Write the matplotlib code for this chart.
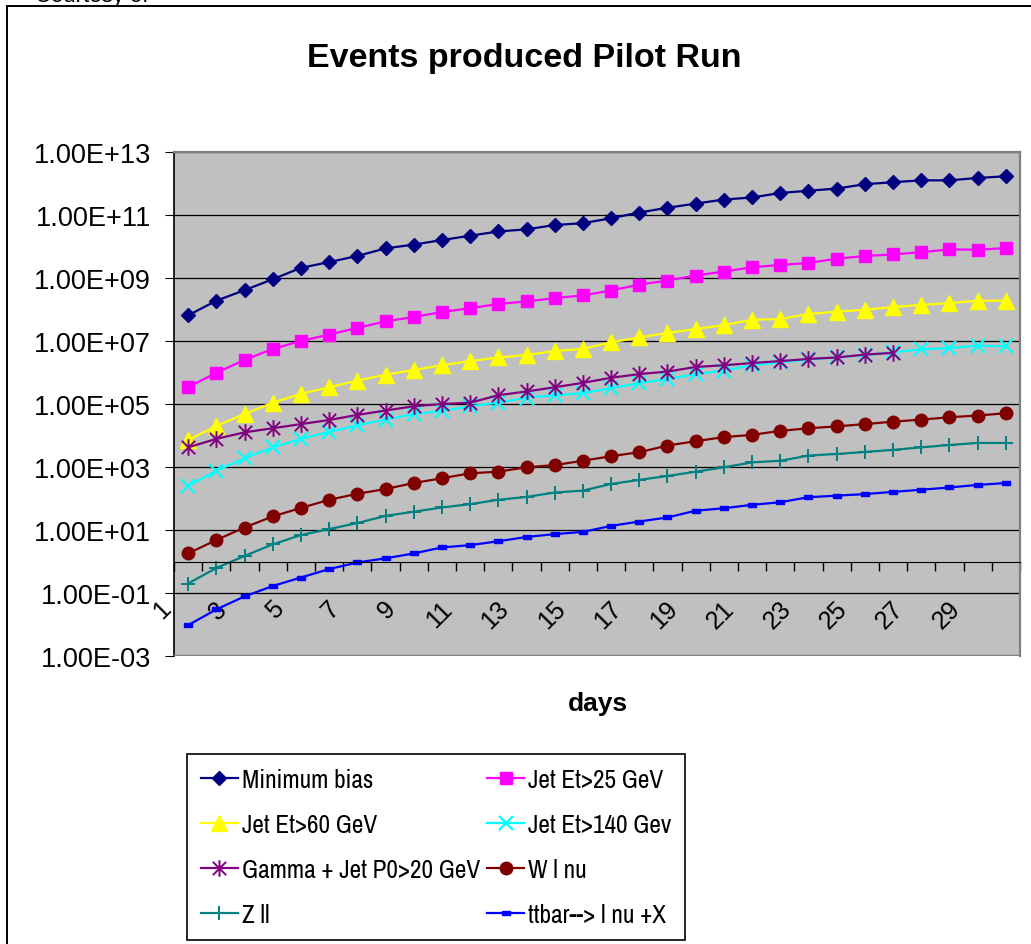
import matplotlib
matplotlib.use("Agg")
import numpy as np
import matplotlib.pyplot as plt
import matplotlib.transforms as mtrans
from matplotlib.path import Path
from matplotlib.patches import Rectangle
from matplotlib.ticker import FixedLocator, FuncFormatter
from matplotlib import font_manager

# ---- data ----
days = list(range(1, 31))

min_bias = [6.5e7, 1.9e8, 4.1e8, 9.1e8, 2.1e9, 3.2e9, 5.0e9, 8.7e9, 1.15e10, 1.6e10,
            2.2e10, 3.0e10, 3.5e10, 4.8e10, 5.5e10, 7.9e10, 1.2e11, 1.7e11, 2.3e11, 3.1e11,
            3.6e11, 5.0e11, 5.9e11, 6.9e11, 9.5e11, 1.1e12, 1.26e12, 1.26e12, 1.5e12, 1.7e12]
jet25 = [3.4e5, 9.8e5, 2.5e6, 5.6e6, 1.0e7, 1.6e7, 2.6e7, 4.2e7, 5.8e7, 8.3e7,
         1.1e8, 1.5e8, 1.8e8, 2.3e8, 2.8e8, 4.0e8, 6.2e8, 8.3e8, 1.2e9, 1.6e9,
         2.2e9, 2.6e9, 3.0e9, 4.1e9, 5.0e9, 5.6e9, 6.6e9, 8.1e9, 7.9e9, 8.9e9]
jet60 = [7.2e3, 2.0e4, 4.8e4, 1.1e5, 2.1e5, 3.4e5, 5.5e5, 8.5e5, 1.2e6, 1.7e6,
         2.3e6, 3.0e6, 3.6e6, 4.8e6, 5.6e6, 9.1e6, 1.3e7, 1.8e7, 2.4e7, 3.2e7,
         4.7e7, 5.0e7, 7.2e7, 8.5e7, 9.8e7, 1.2e8, 1.4e8, 1.6e8, 1.9e8, 1.9e8]
jet140 = [2.5e2, 7.6e2, 1.9e3, 4.2e3, 7.8e3, 1.3e4, 2.1e4, 3.2e4, 4.8e4, 6.0e4,
          8.5e4, 1.1e5, 1.6e5, 1.9e5, 2.2e5, 3.2e5, 4.6e5, 6.2e5, 8.9e5, 1.15e6,
          1.7e6, 2.1e6, 2.6e6, 3.0e6, 3.6e6, 4.4e6, 5.4e6, 6.0e6, 7.1e6, 6.8e6]
gamma_jet = [4.2e3, 7.8e3, 1.26e4, 1.7e4, 2.3e4, 3.1e4, 4.5e4, 6.2e4, 8.5e4, 1.0e5,
             1.1e5, 1.9e5, 2.5e5, 3.4e5, 4.7e5, 6.8e5, 8.9e5, 1.07e6, 1.5e6, 1.7e6,
             2.0e6, 2.3e6, 2.7e6, 3.0e6, 3.7e6, 4.2e6]
w_lnu = [1.8, 4.8, 12, 27, 50, 91, 141, 200, 310, 440,
         630, 710, 980, 1150, 1580, 2200, 2950, 4800, 6600, 8900,
         1.05e4, 1.4e4, 1.7e4, 1.95e4, 2.3e4, 2.75e4, 3.2e4, 3.8e4, 4.3e4, 5.1e4]
z_ll = [0.20, 0.62, 1.5, 3.5, 6.9, 10.7, 16.6, 28, 38, 52,
        66, 91, 112, 155, 178, 290, 390, 520, 710, 980,
        1400, 1580, 2300, 2600, 3000, 3500, 4200, 5000, 5800, 5800]
ttbar = [0.0095, 0.030, 0.078, 0.166, 0.31, 0.575, 0.93, 1.26, 1.8, 2.8,
         3.3, 4.4, 6.0, 7.4, 8.7, 13.5, 18.6, 25, 41, 49,
         63, 76, 110, 123, 138, 162, 190, 224, 270, 310]

names = ["Minimum bias", "Jet Et>25 GeV", "Jet Et>60 GeV", "Jet Et>140 Gev",
         "Gamma + Jet P0>20 GeV", "W l nu", "Z ll", "ttbar--> l nu +X"]
series = [min_bias, jet25, jet60, jet140, gamma_jet, w_lnu, z_ll, ttbar]

# excel style markers
star = Path([(-1, -1), (1, 1), (-1, 1), (1, -1), (0, -1.25), (0, 1.25)],
            [Path.MOVETO, Path.LINETO, Path.MOVETO, Path.LINETO, Path.MOVETO, Path.LINETO])
dash = [(-1, -0.4), (1, -0.4), (1, 0.4), (-1, 0.4), (-1, -0.4)]

styles = [
    dict(color="#000080", marker="D", ms=7),
    dict(color="#FF00FF", marker="s", ms=9),
    dict(color="#FFFF00", marker="^", ms=11),
    dict(color="#00FFFF", marker="x", ms=10, mew=1.6),
    dict(color="#800080", marker=star, ms=12, mew=1.4),
    dict(color="#800000", marker="o", ms=9),
    dict(color="#008080", marker="+", ms=10, mew=1.4),
    dict(color="#0000FF", marker=dash, ms=6),
]

plt.rcParams["font.family"] = ["Liberation Sans", "DejaVu Sans"]
# legend text in the original is squeezed, use a narrow face if there is one
installed = {f.name for f in font_manager.fontManager.ttflist}
if "Archivo Narrow" in installed:
    legend_prop = {"family": "Archivo Narrow", "size": 18.2}
    leg_space, leg_pad = 0.87, 0.55
else:
    legend_prop = {"family": "Liberation Sans", "size": 15}
    leg_space, leg_pad = 1.15, 0.6

fig = plt.figure(figsize=(10.31, 9.45), dpi=100)
ax = fig.add_axes([174 / 1031, 1 - 657 / 945, 846 / 1031, 504 / 945])
ax.set_facecolor("#C0C0C0")

lines = []
for name, vals, st in zip(names, series, styles):
    ln, = ax.plot(days[:len(vals)], vals, label=name, lw=1.6, clip_on=False, **st)
    lines.append(ln)

ax.set_yscale("log")
ax.set_ylim(1e-3, 1e13)
ax.set_xlim(0.5, 30.5)
ax.yaxis.set_major_locator(FixedLocator([10.0 ** k for k in range(-3, 14, 2)]))
ax.yaxis.set_minor_locator(FixedLocator([]))
ax.yaxis.set_major_formatter(FuncFormatter(lambda v, p: f"{v:.2E}"))
ax.grid(axis="y", color="black", lw=0.9)
ax.set_axisbelow(True)

# x axis crosses at 1 like excel
ax.spines["bottom"].set_position(("data", 1))
ax.spines["bottom"].set_color("black")
ax.spines["left"].set_color("black")
ax.spines["left"].set_linewidth(1.2)
for s in ["top", "right"]:
    ax.spines[s].set_color("#808080")
    ax.spines[s].set_linewidth(1.6)
ax.axhline(1e-3, color="#808080", lw=2.5, zorder=3)

ax.set_xticks(days[::2])
ax.set_xticklabels([str(d) for d in days[::2]])
ax.xaxis.set_minor_locator(FixedLocator(np.arange(0.5, 31, 1)))
ax.tick_params(axis="x", which="major", length=0, pad=25, labelsize=18)
ax.tick_params(axis="x", which="minor", length=6.5, direction="out", width=1.0)
ax.tick_params(axis="y", which="major", length=6.5, direction="out", pad=10, labelsize=19.5)
shift = mtrans.ScaledTranslation(-0.13, 0, fig.dpi_scale_trans)
for t in ax.xaxis.get_major_ticks():
    t.label1.set_rotation(45)
    t.label1.set_ha("right")
    t.label1.set_va("top")
    t.label1.set_transform(t.label1.get_transform() + shift)

fig.text(524 / 1031, 1 - 58 / 945, "Events produced Pilot Run", ha="center", va="center",
         fontsize=24.5, fontweight="bold")
fig.text(598 / 1031, 1 - 704 / 945, "days", ha="center", va="center",
         fontsize=19, fontweight="bold")
fig.text(35 / 1031, 1.004, "Courtesy of", ha="left", va="center", fontsize=16)

# chart border
fig.patches.append(Rectangle((7 / 1031, -0.05), 1.2, 1.05 - 7 / 945, transform=fig.transFigure,
                             fill=False, edgecolor="black", lw=1.4))

order = [0, 2, 4, 6, 1, 3, 5, 7]
leg = fig.legend([lines[i] for i in order], [names[i] for i in order], ncol=2,
                 loc="upper left", bbox_to_anchor=(187 / 1031, 1 - 755 / 945),
                 prop=legend_prop,
                 frameon=True, fancybox=False, edgecolor="black", framealpha=1,
                 handlelength=1.45, handletextpad=0.16, columnspacing=0.3,
                 labelspacing=leg_space, borderpad=leg_pad, borderaxespad=0)
leg.get_frame().set_linewidth(1.2)

fig.savefig("out.png", dpi=100)
